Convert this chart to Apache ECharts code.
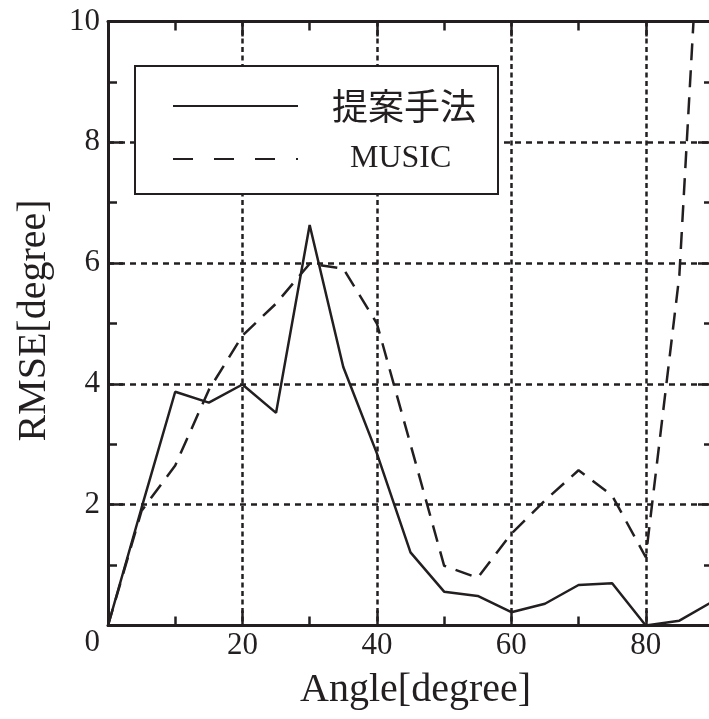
<!DOCTYPE html>
<html><head><meta charset="utf-8">
<script src="https://cdn.jsdelivr.net/npm/echarts@6/dist/echarts.min.js"></script>
<style>html,body{margin:0;padding:0;background:#fff}#c{width:709px;height:719px}</style>
</head><body><div id="c"></div>
<script>
// ---- data ----
const angles   = [0, 5, 10, 15, 20, 25, 30, 35, 40, 45, 50, 55, 60, 65, 70, 75, 80, 85, 90];
const proposed = [0, 1.95, 3.87, 3.69, 3.99, 3.52, 6.63, 4.28, 2.85, 1.21, 0.56, 0.49, 0.22, 0.36, 0.67, 0.70, 0.0, 0.08, 0.40];
const music    = [0, 1.90, 2.65, 3.90, 4.80, 5.33, 5.99, 5.91, 5.00, 3.00, 0.99, 0.79, 1.52, 2.07, 2.57, 2.15, 1.13, 5.80, 15.8];
const seriesNames = ['提案手法', 'MUSIC'];
const xTickLabels = [0, 20, 40, 60, 80];
const yTickLabels = [0, 2, 4, 6, 8, 10];
const xLabel = 'Angle[degree]';
const yLabel = 'RMSE[degree]';

const C = '#231f20';
const SERIF = '"Liberation Serif","DejaVu Serif",serif';

const chart = echarts.init(document.getElementById('c'), null, {renderer: 'canvas'});

const axisCommon = {
  axisLine: {show: true, onZero: false, lineStyle: {color: C, width: 3}},
  axisTick: {show: true, inside: true, length: 15, lineStyle: {color: C, width: 2.5}},
  minorTick: {show: true, splitNumber: 2, length: 9, lineStyle: {color: C, width: 2.5}}
};

const hiddenSymbol = {color: 'rgba(0,0,0,0)', borderColor: 'rgba(0,0,0,0)', borderWidth: 0, opacity: 0};

const option = {
  backgroundColor: '#fff',
  animation: false,
  // axis runs 0..100 so that 90 lands at the (cropped) right frame, x = 713px
  grid: {left: 108, top: 21.5, width: 672.2, bottom: 93.5, containLabel: false, outerBoundsMode: 'none'},
  xAxis: [
    Object.assign({
      type: 'value', min: 0, max: 100, interval: xTickLabels[1] - xTickLabels[0], position: 'bottom',
      axisLabel: {showMinLabel: false, showMaxLabel: false, margin: 5, color: C, fontFamily: SERIF, fontSize: 31},
      splitLine: {show: true, lineStyle: {color: C, width: 2.5, type: [5, 3.5]}},
      name: xLabel, nameLocation: 'middle', nameGap: 45,
      nameTextStyle: {color: C, fontFamily: SERIF, fontSize: 40, padding: [0, 57, 0, 0]}
    }, axisCommon),
    Object.assign({
      type: 'value', min: 0, max: 100, interval: 20, position: 'top',
      axisLabel: {show: false}, splitLine: {show: false}
    }, axisCommon)
  ],
  yAxis: [
    Object.assign({
      type: 'value', min: 0, max: 10, interval: yTickLabels[1] - yTickLabels[0], position: 'left',
      axisLabel: {showMinLabel: false, margin: 8, color: C, fontFamily: SERIF, fontSize: 31},
      splitLine: {show: true, lineStyle: {color: C, width: 2.5, type: [6, 5]}},
      name: yLabel, nameLocation: 'middle', nameGap: 54, nameRotate: 90,
      nameTextStyle: {color: C, fontFamily: SERIF, fontSize: 40, padding: [0, 0, 0, 6]}
    }, axisCommon),
    Object.assign({
      type: 'value', min: 0, max: 10, interval: 2, position: 'right', offset: -67.2,
      axisLabel: {show: false}, splitLine: {show: false}
    }, axisCommon)
  ],
  legend: {
    orient: 'vertical', left: 135, top: 66,
    padding: [22, 22, 19, 37], itemGap: 19,
    itemWidth: 125, itemHeight: 14,
    backgroundColor: '#fff', borderColor: C, borderWidth: 2,
    textStyle: {color: C},
    itemStyle: hiddenSymbol,
    data: [
      {name: seriesNames[0], textStyle: {fontFamily: '"Noto Sans CJK JP"', fontSize: 36, padding: [0, 0, 0, 29], color: C},
       itemStyle: hiddenSymbol, lineStyle: {color: C, width: 2, type: 'solid'}},
      {name: seriesNames[1], textStyle: {fontFamily: SERIF, fontSize: 32, padding: [0, 0, 0, 47], color: C},
       itemStyle: hiddenSymbol, lineStyle: {color: C, width: 2, type: [20, 21]}}
    ]
  },
  graphic: [
    {type: 'text', x: 100, y: 643, z: 10,
     style: {text: String(xTickLabels[0]), fill: C, font: '31px ' + SERIF, textAlign: 'right', textVerticalAlign: 'middle'}}
  ],
  series: [
    {name: seriesNames[0], type: 'line', symbol: 'none', clip: true, z: 3,
     data: angles.map((a, i) => [a, proposed[i]]),
     lineStyle: {color: C, width: 2.5, type: 'solid'}, itemStyle: {color: C}},
    {name: seriesNames[1], type: 'line', symbol: 'none', clip: true, z: 3,
     data: angles.map((a, i) => [a, music[i]]),
     lineStyle: {color: C, width: 2.5, type: [17, 10]}, itemStyle: {color: C}}
  ]
};
chart.setOption(option);
</script>
</body></html>
